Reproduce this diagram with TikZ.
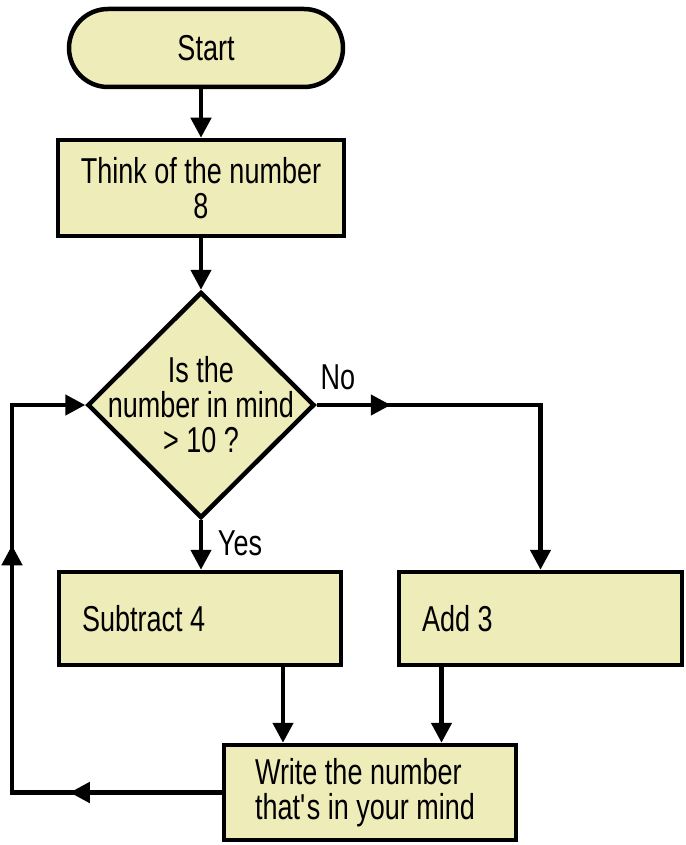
\documentclass[tikz,border=0pt]{standalone}
\usepackage{fontspec}
\setmainfont{Liberation Sans}[FakeStretch=0.75]
\usepackage{tikz}
\usetikzlibrary{arrows.meta}
\usetikzlibrary{decorations.markings}
\usetikzlibrary{shapes.geometric}

\definecolor{boxfill}{RGB}{238,236,185}

\begin{document}
\begin{tikzpicture}[x=1pt,y=-1pt,
  txt/.style={font=\fontsize{36}{35}\selectfont, inner sep=0pt},
  terminal/.style={draw, line width=4.5pt, fill=boxfill, rounded corners=39pt, minimum width=274pt, minimum height=78pt, txt},
  process/.style={draw, line width=4.5pt, fill=boxfill, txt},
  decision/.style={draw, line width=4.5pt, fill=boxfill, diamond, minimum width=227pt, minimum height=226pt, inner sep=0pt},
  flow/.style={line width=4.5pt, -{Triangle[length=20pt,width=20pt]}},
  midarrow/.style={postaction={decorate}, decoration={markings, mark=at position #1 with {\arrow{Triangle[length=20pt,width=20pt]}}}}]
\useasboundingbox (0,0) rectangle (685,845);

%Shape: Terminal [id:start]
\node [terminal] (start) at (206,48) {Start};
%Shape: Process [id:think]
\node [process, minimum width=286pt, minimum height=96pt, align=center] (think) at (201,188) {Think of the number\\8};
%Shape: Decision [id:decide]
\node [decision] (decide) at (201,405) {};
% Text Node
\node [txt, align=center] (question) at (decide.center) {Is the\\number in mind\\> 10 ?};
%Shape: Process [id:sub]
\node [process, minimum height=93pt, text width=236pt, inner xsep=23pt, align=flush left] (sub) at (200,618.5) {Subtract 4};
%Shape: Process [id:add]
\node [process, minimum height=93pt, text width=237pt, inner xsep=23pt, align=flush left] (add) at (540.5,618.5) {Add 3};
%Shape: Process [id:write]
\node [process, minimum height=95pt, text width=230pt, inner xsep=31pt, align=flush left] (write) at (370,792.5) {Write the number\\that\textquotesingle s in your mind};
\coordinate (loopL) at (12,405);

%Straight Lines
\draw [flow] (start.south -| think.north) -- (think.north);
\draw [flow] (think.south) -- (decide.north);
\draw [flow] (decide.south) -- (sub.north -| decide.south);
\draw [flow, midarrow=74pt] (decide.east) -| (add.north);
\draw [flow] ([xshift=83pt]sub.south) -- ([xshift=83pt]sub.south |- write.north);
\draw [flow] ([xshift=-99pt]add.south) -- ([xshift=-99pt]add.south |- write.north);
%Loop back
\draw [flow, postaction={decorate}, decoration={markings,
    mark=at position 152pt with {\arrow{Triangle[length=20pt,width=20pt]}},
    mark=at position 457pt with {\arrow{Triangle[length=20pt,width=20pt]}}}]
  (write.west) -| (loopL) -- (decide.west);

% Text Node
\node [txt] (yes) at (240,543) {Yes};
% Text Node
\node [txt] (no) at (338,377) {No};

\end{tikzpicture}
\end{document}
